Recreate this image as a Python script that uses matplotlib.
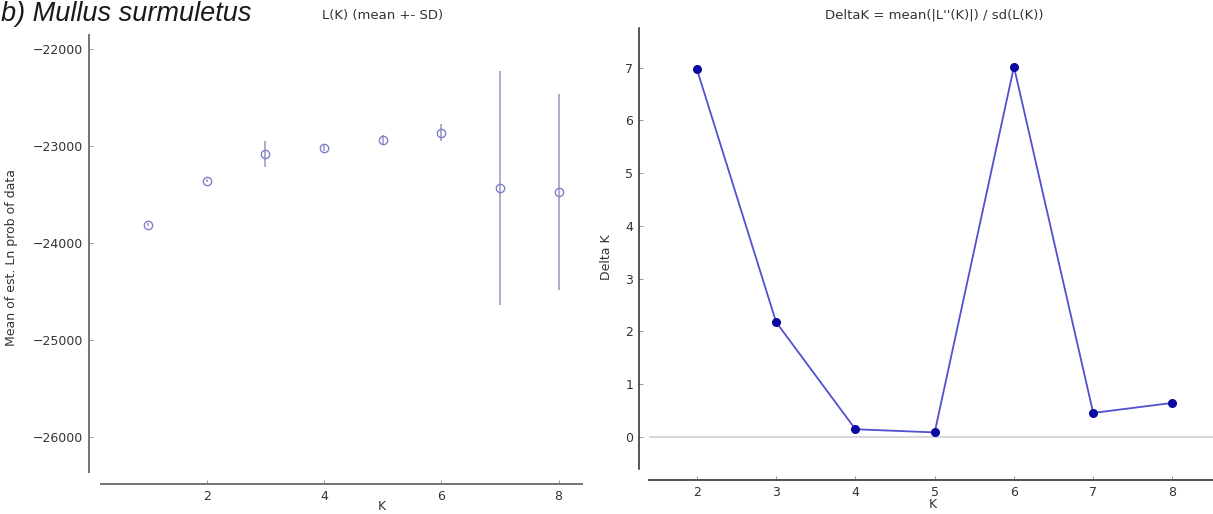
import matplotlib
matplotlib.use("Agg")
import matplotlib.pyplot as plt
import numpy as np

# Evanno-style summary for K = 1..8
k_all = [1, 2, 3, 4, 5, 6, 7, 8]
lnp_mean = [-23814, -23358, -23086, -23018, -22938, -22863, -23433, -23474]
lnp_sd = [15, 15, 134, 30, 52, 86, 1203, 1010]

k_delta = [2, 3, 4, 5, 6, 7, 8]
delta_k = [6.97, 2.17, 0.14, 0.08, 7.02, 0.45, 0.64]

W, H = 1213, 514
DPI = 100
px = 72.0 / DPI  # pixels -> points

plt.rcParams['font.family'] = 'DejaVu Sans'
fig = plt.figure(figsize=(W / DPI, H / DPI), dpi=DPI)

def box(x0, y0, x1, y1):
    return [x0 / W, 1 - y1 / H, (x1 - x0) / W, (y1 - y0) / H]

# ---- left panel: L(K)
ax1 = fig.add_axes(box(101, 35, 582, 472))
ax1.errorbar(k_all, lnp_mean, yerr=lnp_sd, fmt='o', mfc='none', mec='#8080c8',
             ms=6, mew=1.0, ecolor='#a0a0c0', elinewidth=1.2, capsize=0)
ax1.set_xlim(0.2, 8.4)
ax1.set_ylim(-26361, -21856)
ax1.set_xticks([2, 4, 6, 8])
ax1.set_yticks([-26000, -25000, -24000, -23000, -22000])
for s in ['top', 'right']:
    ax1.spines[s].set_visible(False)
ax1.spines['left'].set_position(('outward', 12 * px))
ax1.spines['bottom'].set_position(('outward', 12 * px))
for s in ['left', 'bottom']:
    ax1.spines[s].set_color('#777777')
    ax1.spines[s].set_linewidth(2 * px)
ax1.tick_params(direction='in', length=3, width=0.6, color='#888888',
                labelsize=9, labelcolor='#333333', pad=4)
ax1.set_ylabel('Mean of est. Ln prob of data', fontsize=9, color='#333333')
ax1.yaxis.set_label_coords(18 / W, 0.5, transform=fig.transFigure)
fig.text(383 / W, 1 - 16 / H, 'L(K) (mean +- SD)', ha='center', va='center',
         fontsize=9.5, color='#333333')
fig.text(382 / W, 1 - 506 / H, 'K', ha='center', va='center', fontsize=9,
         color='#333333')

# ---- right panel: Delta K
ax2 = fig.add_axes(box(649, 28, 1220, 469.3))
ax2.axhline(0, color='#d0d0d0', lw=1.2, zorder=1)
ax2.plot(k_delta, delta_k, '-', color='#5050d0', lw=1.3, zorder=2)
ax2.plot(k_delta, delta_k, 'o', color='#0a0aa0', ms=5.5, zorder=3)
ax2.set_xlim(1.395, 8.6)
ax2.set_ylim(-0.62, 7.755)
ax2.set_xticks(k_delta)
ax2.set_yticks(range(0, 8))
for s in ['top', 'right']:
    ax2.spines[s].set_visible(False)
ax2.spines['left'].set_position(('outward', 10 * px))
ax2.spines['bottom'].set_position(('outward', 11 * px))
ax2.spines['left'].set_color('#222222')
ax2.spines['left'].set_linewidth(1.5 * px)
ax2.spines['bottom'].set_color('#555555')
ax2.spines['bottom'].set_linewidth(2 * px)
ax2.tick_params(direction='in', length=3, width=0.6, color='#888888',
                labelsize=9, labelcolor='#333333', pad=4)
ax2.set_ylabel('Delta K', fontsize=9, color='#333333')
ax2.yaxis.set_label_coords(613 / W, 0.5, transform=fig.transFigure)
fig.text(934 / W, 1 - 15 / H, "DeltaK = mean(|L''(K)|) / sd(L(K))", ha='center',
         va='center', fontsize=9.5, color='#333333')
fig.text(933 / W, 1 - 505 / H, 'K', ha='center', va='center', fontsize=9,
         color='#333333')

# panel caption at the top-left corner
fig.text(1 / W, 1 - 21 / H, 'b) Mullus surmuletus', ha='left', va='baseline',
         fontsize=19.5, style='italic', family='Liberation Sans', color='#1a1a1a')

fig.savefig('out.png', dpi=DPI)
